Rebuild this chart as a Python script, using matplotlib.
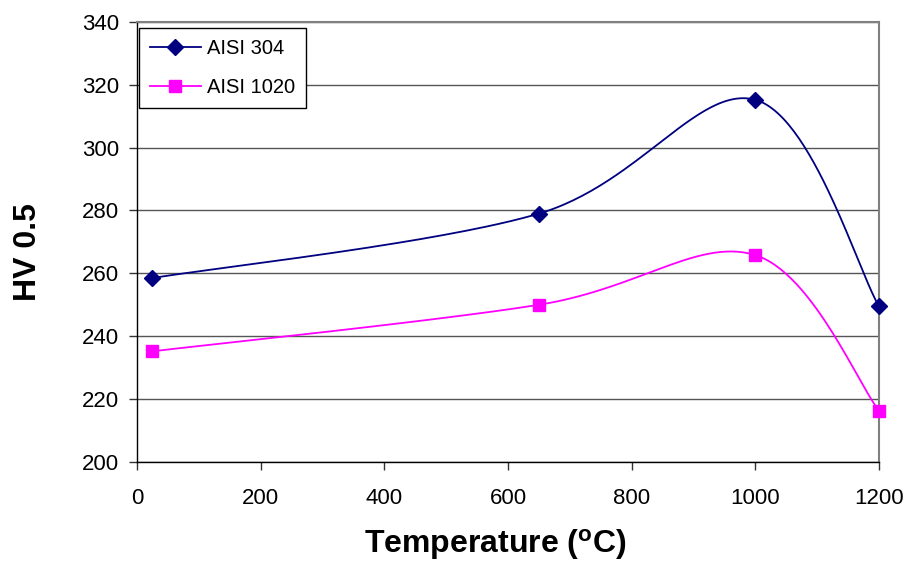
import numpy as np
import matplotlib
matplotlib.use("Agg")
import matplotlib.pyplot as plt

plt.rcParams['font.family'] = ['Liberation Sans', 'DejaVu Sans']

temps = [25, 650, 1000, 1200]
hv_304 = [258.5, 279, 315.2, 249.5]
hv_1020 = [235.2, 250, 265.8, 216.3]
xticks = [0, 200, 400, 600, 800, 1000, 1200]
yticks = [200, 220, 240, 260, 280, 300, 320, 340]

def smooth(x, y, n=40):
    # excel-style bezier smoothing
    x = np.asarray(x, float); y = np.asarray(y, float)
    px = np.concatenate([[x[0]], x, [x[-1]]]); py = np.concatenate([[y[0]], y, [y[-1]]])
    ox, oy = [], []
    t = np.linspace(0, 1, n)
    for i in range(1, len(px) - 2):
        p0 = np.array([px[i], py[i]]); p3 = np.array([px[i+1], py[i+1]])
        p1 = p0 + (np.array([px[i+1], py[i+1]]) - np.array([px[i-1], py[i-1]])) / 6
        p2 = p3 - (np.array([px[i+2], py[i+2]]) - np.array([px[i], py[i]])) / 6
        b = ((1-t)**3)[:, None]*p0 + (3*(1-t)**2*t)[:, None]*p1 + (3*(1-t)*t**2)[:, None]*p2 + (t**3)[:, None]*p3
        ox.extend(b[:, 0]); oy.extend(b[:, 1])
    return ox, oy

fig = plt.figure(figsize=(9.09, 5.62), dpi=100)
ax = fig.add_axes([0.1507, 0.178, 0.8163, 0.7831])

for yv, c, m, ms, lab in [(hv_304, '#000080', 'D', 8.5, 'AISI 304'), (hv_1020, '#FF00FF', 's', 8, 'AISI 1020')]:
    sx, sy = smooth(temps, yv, 60)
    ax.plot(sx, sy, color=c, lw=1.3, zorder=3)
    ax.plot(temps, yv, ls='none', marker=m, color=c, ms=ms, zorder=4, clip_on=False)
    ax.plot([], [], color=c, lw=1.3, marker=m, ms=ms, label=lab)

ax.set_xlim(0, 1200); ax.set_ylim(200, 340)
ax.set_xticks(xticks); ax.set_yticks(yticks)
ax.yaxis.grid(True, color='#555555', lw=1.0)
ax.set_axisbelow(True)
for s in ['top', 'right']:
    ax.spines[s].set_color('#808080'); ax.spines[s].set_linewidth(1.5)
for s in ['left', 'bottom']:
    ax.spines[s].set_color('black'); ax.spines[s].set_linewidth(1.0)
ax.tick_params(direction='out', length=6, width=1, color='#333333', labelsize=16)
ax.tick_params(axis='x', pad=13)
ax.tick_params(axis='y', pad=7)

ax.set_xlabel('Temperature ($\\mathregular{^{o}}$C)', fontsize=23, fontweight='bold')
ax.set_ylabel('HV 0.5', fontsize=23, fontweight='bold')
ax.xaxis.set_label_coords(0.4825, -0.148)
ax.yaxis.set_label_coords(-0.126, 0.478)

leg = ax.legend(loc='upper left', bbox_to_anchor=(0.003, 0.986), fontsize=14.5, frameon=True, fancybox=False,
                edgecolor='black', framealpha=1, handlelength=2.5, borderpad=0.55, labelspacing=1.0,
                handletextpad=0.3, borderaxespad=0)
leg.get_frame().set_linewidth(1.0)

plt.savefig('out.png', dpi=100)
